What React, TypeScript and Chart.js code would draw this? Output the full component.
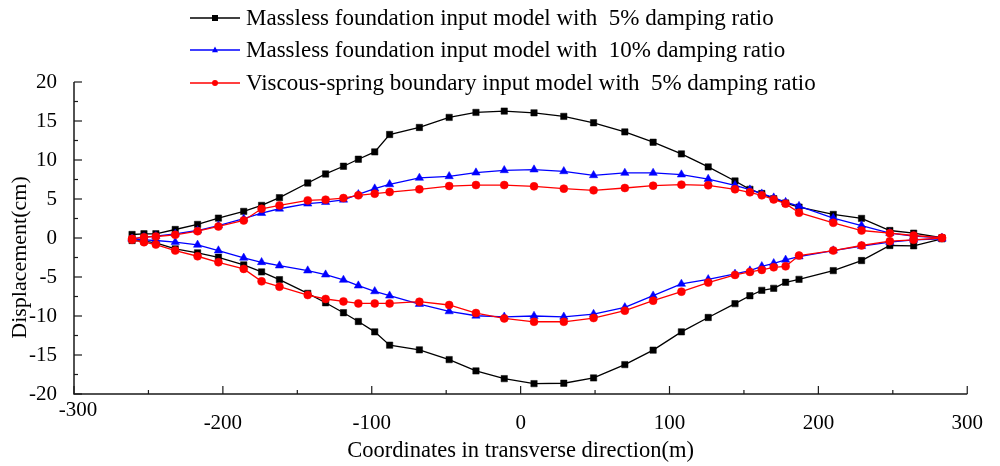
import React, { useEffect, useRef } from 'react';
import { Chart, registerables } from 'chart.js';

Chart.register(...registerables);

const FONT = '"Liberation Serif", "Times New Roman", serif';

// Coordinates in transverse direction (m)
const xCoords = [-261, -253, -245, -232, -217, -203, -186, -174, -162, -143, -131, -119, -109, -98, -88, -68, -48, -30, -11, 9, 29, 49, 70, 89, 108, 126, 144, 154, 162, 170, 178, 187, 210, 229, 248, 264, 283];

// Massless foundation, 5% damping
const massless5Max = [0.45, 0.54, 0.54, 1.09, 1.74, 2.55, 3.41, 4.18, 5.17, 7.05, 8.21, 9.2, 10.1, 11.04, 13.27, 14.17, 15.46, 16.1, 16.27, 16.05, 15.59, 14.77, 13.6, 12.28, 10.78, 9.11, 7.31, 6.24, 5.7, 5.04, 4.48, 3.96, 3.02, 2.51, 0.96, 0.62, 0.03];
const massless5Min = [-0.32, -0.41, -0.62, -1.39, -1.9, -2.47, -3.45, -4.35, -5.34, -7.1, -8.3, -9.58, -10.7, -12.03, -13.74, -14.34, -15.59, -17.04, -18.03, -18.67, -18.62, -17.94, -16.23, -14.38, -12.03, -10.19, -8.42, -7.4, -6.71, -6.45, -5.68, -5.3, -4.18, -2.89, -0.96, -1.0, -0.1];

// Massless foundation, 10% damping
const massless10Max = [-0.1, 0.1, 0.23, 0.54, 0.96, 1.6, 2.47, 3.19, 3.75, 4.4, 4.6, 4.9, 5.6, 6.33, 6.88, 7.7, 7.91, 8.38, 8.68, 8.77, 8.55, 8.04, 8.34, 8.34, 8.13, 7.56, 6.75, 6.2, 5.68, 5.17, 4.6, 4.09, 2.55, 1.6, 0.62, 0.23, 0.03];
const massless10Min = [-0.1, -0.23, -0.32, -0.54, -0.88, -1.61, -2.55, -3.11, -3.54, -4.18, -4.7, -5.38, -6.11, -6.84, -7.4, -8.47, -9.41, -9.97, -10.1, -10.0, -10.1, -9.75, -8.9, -7.4, -5.89, -5.3, -4.6, -4.18, -3.63, -3.24, -2.8, -2.38, -1.61, -1.05, -0.54, -0.23, -0.1];

// Viscous-spring boundary, 5% damping
const viscous5Max = [-0.1, 0.1, 0.19, 0.41, 0.87, 1.48, 2.25, 3.75, 4.18, 4.82, 4.91, 5.12, 5.47, 5.68, 5.89, 6.24, 6.66, 6.79, 6.79, 6.62, 6.33, 6.11, 6.41, 6.71, 6.84, 6.75, 6.24, 5.85, 5.47, 4.95, 4.4, 3.24, 1.95, 0.96, 0.62, 0.32, 0.03];
const viscous5Min = [-0.23, -0.54, -0.84, -1.61, -2.34, -3.11, -3.96, -5.56, -6.24, -7.31, -7.82, -8.13, -8.39, -8.39, -8.39, -8.17, -8.59, -9.62, -10.31, -10.74, -10.74, -10.26, -9.32, -8.04, -6.88, -5.72, -4.73, -4.35, -4.09, -3.76, -3.63, -2.25, -1.61, -0.96, -0.41, -0.23, 0.0];

const seriesNames = [
  'Massless foundation input model with  5% damping ratio',
  'Massless foundation input model with  10% damping ratio',
  'Viscous-spring boundary input model with  5% damping ratio',
];
const seriesColors = ['#000000', '#0000ff', '#ff0000'];
const seriesMarkers = ['rect', 'triangle', 'circle'];

const xRange = [-300, 300];
const yRange = [-20, 20];
const xStep = [100, 50]; // major, minor
const yStep = [5, 2.5];

const xTitle = 'Coordinates in transverse direction(m)';
const yTitle = 'Displacement(cm)';

function drawMarker(ctx: CanvasRenderingContext2D, style: string, x: number, y: number, r: number) {
  ctx.beginPath();
  if (style === 'rect') {
    ctx.rect(x - r, y - r, 2 * r, 2 * r);
  } else if (style === 'triangle') {
    ctx.moveTo(x, y - r * 1.15);
    ctx.lineTo(x + r, y + r * 0.75);
    ctx.lineTo(x - r, y + r * 0.75);
    ctx.closePath();
  } else {
    ctx.arc(x, y, r, 0, Math.PI * 2);
  }
  ctx.fill();
}

const decorPlugin = {
  id: 'decor',
  afterDraw(chart: any) {
    const { ctx, chartArea, scales } = chart;
    const xs = scales.x;
    const ys = scales.y;
    ctx.save();
    // axis lines
    ctx.strokeStyle = '#1a1a1a';
    ctx.lineWidth = 1.5;
    ctx.beginPath();
    ctx.moveTo(chartArea.left, chartArea.top);
    ctx.lineTo(chartArea.left, chartArea.bottom);
    ctx.lineTo(chartArea.right, chartArea.bottom);
    ctx.stroke();
    // inward ticks
    ctx.lineWidth = 1.2;
    for (let v = xRange[0]; v <= xRange[1]; v += xStep[1]) {
      const px = xs.getPixelForValue(v);
      const len = Math.abs(v % xStep[0]) < 1e-6 ? 8 : 4;
      ctx.beginPath();
      ctx.moveTo(px, chartArea.bottom);
      ctx.lineTo(px, chartArea.bottom - len);
      ctx.stroke();
    }
    for (let v = yRange[0]; v <= yRange[1]; v += yStep[1]) {
      const py = ys.getPixelForValue(v);
      const len = Math.abs(v % yStep[0]) < 1e-6 ? 8 : 4;
      ctx.beginPath();
      ctx.moveTo(chartArea.left, py);
      ctx.lineTo(chartArea.left + len, py);
      ctx.stroke();
    }
    // first x label, set higher as in the original
    ctx.fillStyle = '#000';
    ctx.font = '21px ' + FONT;
    ctx.textAlign = 'center';
    ctx.textBaseline = 'middle';
    ctx.fillText(String(xRange[0]), xs.getPixelForValue(xRange[0]) + 4, chartArea.bottom + 16);

    // y axis title (placed lower than centre, as in the original)
    ctx.save();
    ctx.translate(20, ys.getPixelForValue(-2.5));
    ctx.rotate(-Math.PI / 2);
    ctx.font = '22px ' + FONT;
    ctx.fillText(yTitle, 0, 0);
    ctx.restore();

    // legend
    const rows = [18, 50, 83];
    ctx.font = '23px ' + FONT;
    ctx.textAlign = 'left';
    ctx.textBaseline = 'middle';
    for (let i = 0; i < seriesNames.length; i++) {
      const y = rows[i];
      ctx.strokeStyle = seriesColors[i];
      ctx.fillStyle = seriesColors[i];
      ctx.lineWidth = 1.5;
      ctx.beginPath();
      ctx.moveTo(190, y);
      ctx.lineTo(240, y);
      ctx.stroke();
      drawMarker(ctx, seriesMarkers[i], 215, y, 3);
      ctx.fillStyle = '#000';
      ctx.fillText(seriesNames[i], 246, y + 1);
    }
    ctx.restore();
  },
};

function toPoints(ys: number[]) {
  return xCoords.map((x, i) => ({ x, y: ys[i] }));
}

function makeDataset(data: number[], idx: number, order: number) {
  const style = seriesMarkers[idx];
  const radius = style === 'rect' ? 4.5 : style === 'triangle' ? 4.8 : 4;
  return {
    label: seriesNames[idx],
    data: toPoints(data),
    borderColor: seriesColors[idx],
    backgroundColor: seriesColors[idx],
    pointBackgroundColor: seriesColors[idx],
    pointBorderColor: seriesColors[idx],
    pointStyle: style,
    pointRadius: radius,
    pointBorderWidth: 0.5,
    borderWidth: 1.3,
    showLine: true,
    tension: 0,
    order,
  };
}

export default function App() {
  const ref = useRef<HTMLCanvasElement | null>(null);

  useEffect(() => {
    document.body.style.margin = '0';
    const canvas = ref.current;
    if (!canvas) return;
    const chart = new Chart(canvas, {
      type: 'scatter',
      data: {
        datasets: [
          makeDataset(viscous5Max, 2, 1),
          makeDataset(viscous5Min, 2, 1),
          makeDataset(massless10Max, 1, 2),
          makeDataset(massless10Min, 1, 2),
          makeDataset(massless5Max, 0, 3),
          makeDataset(massless5Min, 0, 3),
        ],
      },
      options: {
        responsive: false,
        animation: false,
        devicePixelRatio: 1,
        layout: { padding: { top: 82, right: 19, left: 0, bottom: 0 } },
        plugins: {
          legend: { display: false },
          tooltip: { enabled: false },
        },
        scales: {
          x: {
            type: 'linear',
            min: xRange[0],
            max: xRange[1],
            grid: { display: false, drawTicks: false },
            border: { display: false },
            ticks: {
              stepSize: xStep[0],
              color: '#000',
              font: { family: FONT, size: 21 },
              padding: 17,
              maxRotation: 0,
              autoSkip: false,
              callback: (v: any) => (v === xRange[0] ? '' : String(v)),
            },
            title: {
              display: true,
              text: xTitle,
              color: '#000',
              font: { family: FONT, size: 22.5 },
              padding: { top: 4, bottom: 1 },
            },
            afterFit: (s: any) => {
              s.height = 72;
            },
          },
          y: {
            type: 'linear',
            min: yRange[0],
            max: yRange[1],
            grid: { display: false, drawTicks: false },
            border: { display: false },
            ticks: {
              stepSize: yStep[0],
              color: '#000',
              font: { family: FONT, size: 21 },
              padding: 17,
            },
            title: { display: false, text: yTitle },
            afterFit: (s: any) => {
              s.width = 74;
            },
          },
        },
      },
      plugins: [decorPlugin],
    } as any);
    return () => chart.destroy();
  }, []);

  return <canvas ref={ref} width={1000} height={466} style={{ display: 'block' }} />;
}
